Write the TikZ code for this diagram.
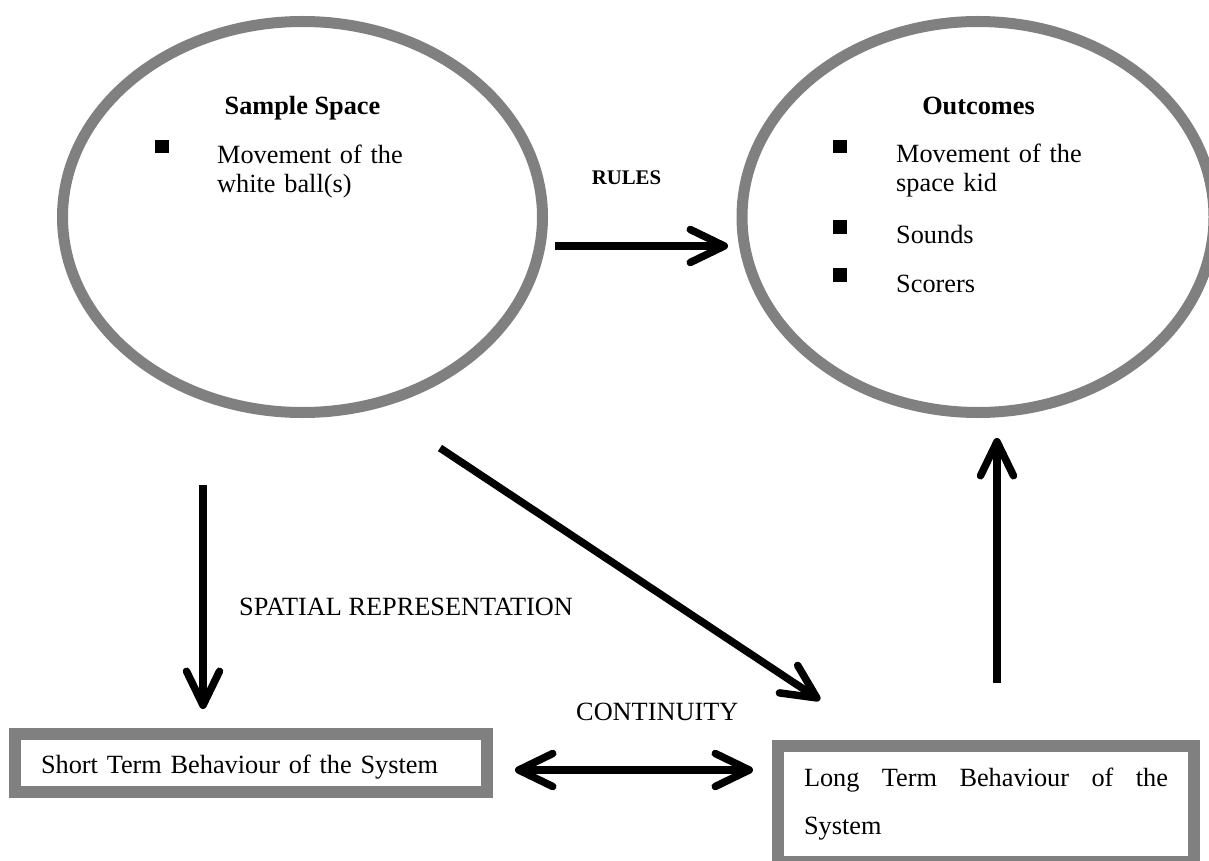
\documentclass[tikz,border=0pt]{standalone}
\usepackage{fontspec}
\setmainfont{Liberation Serif}
\usetikzlibrary{shapes.geometric,arrows.meta,calc}
\definecolor{ovgray}{HTML}{808080}
\newcommand{\mainsz}{\fontsize{26.3}{29}\selectfont}
\newcommand{\longsz}{\fontsize{26.3}{48}\selectfont}
\newcommand{\rulesz}{\fontsize{20.8}{25}\selectfont}
\begin{document}
\begin{tikzpicture}[x=1pt,y=-1pt,
  oval/.style={ellipse, draw=ovgray, line width=11pt, inner sep=0pt},
  tbox/.style={rectangle, draw=ovgray, line width=12pt, inner ysep=0pt, inner xsep=26pt, font=\mainsz},
  sqbullet/.style={rectangle, fill=black, minimum size=13.5pt, inner sep=0pt},
  txt/.style={anchor=base west, inner sep=0pt, font=\mainsz},
  item/.style={anchor=base west, inner sep=0pt, font=\mainsz, text width=260pt, align=left},
  title/.style={anchor=base, inner sep=0pt, font=\mainsz\bfseries},
  barb/.tip={Straight Barb[length=34pt,width=33pt,round]},
  arr/.style={line width=7.5pt, -barb},
  arrtwo/.style={line width=7.5pt, barb-barb}
]
\useasboundingbox (0,0) rectangle (1209,861);
\clip (0,0) rectangle (1209,861);
\fill[white] (0,0) rectangle (1209,861);

% ellipses
\node[oval, minimum width=480pt, minimum height=391pt] (ss) at (302.5,217) {};
\node[oval, minimum width=472pt, minimum height=391pt] (oc) at (978,217) {};

% ellipse contents
\node[title] (sstitle) at (302.5,115) {Sample Space};
\node[sqbullet] (sb1) at (162,146.5) {};
\node[item] (si1) at (217,164) {Movement of the\\white ball(s)};

\node[title] (octitle) at (978.5,115) {Outcomes};
\node[sqbullet] (ob1) at (840,146.5) {};
\node[sqbullet] (ob2) at (840,227) {};
\node[sqbullet] (ob3) at (840,275) {};
\node[item] (oi1) at (896,163) {Movement of the\\space kid};
\node[item] (oi2) at (896,243.5) {Sounds};
\node[item] (oi3) at (896,292.5) {Scorers};

% boxes
\node[tbox, text width=420pt, align=left, text height=20pt, text depth=0pt, minimum height=58pt] (st) at (251,763) {Short Term Behaviour of the System};
\node[tbox, font=\longsz, text width=364pt, align=left, minimum height=116pt] (lt) at (986,804)
  {\leavevmode\hbox to 364pt{Long\hfill Term\hfill Behaviour\hfill of\hfill the}\\System};

% labels
\node[anchor=base, inner sep=0pt, font=\rulesz\bfseries] (rules) at (626.5,185) {RULES};
\node[txt] (spatial) at (239,615) {SPATIAL REPRESENTATION};
\node[txt] (cont) at (576,720) {CONTINUITY};

% connectors
\draw[arr, shorten <=7pt, shorten >=8.5pt] ([yshift=-29pt]ss.east) -- ([yshift=-29pt]oc.west);

\coordinate (da) at (203,485);
\draw[arr, shorten >=19pt] (da) -- (da |- st.north);

\coordinate (dg) at (440,448);
\draw[arr] (dg) -- ([xshift=48pt,yshift=40pt]lt.north west);

\coordinate (ua) at (997,683);
\draw[arr, shorten >=20pt] (ua) -- (ua |- oc.south);

\coordinate (dd) at (0,770);
\draw[arrtwo, shorten <=22pt, shorten >=19pt] (st.east |- dd) -- (lt.west |- dd);
\end{tikzpicture}
\end{document}
